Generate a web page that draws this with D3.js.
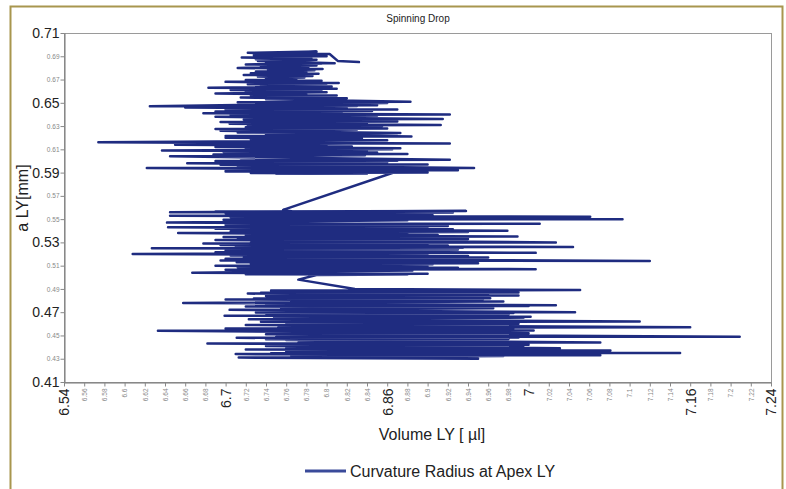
<!DOCTYPE html>
<html>
<head>
<meta charset="utf-8">
<script src="https://cdn.jsdelivr.net/npm/d3@7"></script>
<style>
  html, body { margin: 0; padding: 0; background: #fff; }
  svg { display: block; font-family: "Liberation Sans", Arial, sans-serif; }
</style>
</head>
<body>
<svg id="chart" width="786" height="489"></svg>
<script>
// Spinning drop measurement: curvature radius at apex vs. drop volume (in time order)
const volume = [
  6.832, 6.811, 6.803, 6.722, 6.790, 6.735, 6.780,
  6.728, 6.800, 6.738, 6.782, 6.716, 6.785, 6.730, 6.790,
  6.732, 6.808, 6.740, 6.795, 6.720, 6.790, 6.735, 6.782,
  6.712, 6.796, 6.742, 6.788, 6.730, 6.780, 6.725, 6.792,
  6.718, 6.786, 6.732, 6.778, 6.740, 6.770, 6.720, 6.795,
  6.700, 6.812, 6.730, 6.800, 6.722, 6.790, 6.735, 6.805,
  6.683, 6.810, 6.728, 6.790, 6.705, 6.795, 6.720, 6.800,
  6.690, 6.780, 6.725, 6.810, 6.730, 6.800, 6.715, 6.820,
  6.740, 6.883, 6.712, 6.860, 6.625, 6.850, 6.695, 6.830,
  6.660, 6.820, 6.725, 6.870, 6.700, 6.845, 6.690, 6.815,
  6.678, 6.922, 6.705, 6.850, 6.690, 6.915, 6.718, 6.865,
  6.735, 6.870, 6.695, 6.840, 6.704, 6.913, 6.722, 6.855,
  6.720, 6.860, 6.690, 6.830, 6.695, 6.873, 6.712, 6.870,
  6.740, 6.884, 6.700, 6.845, 6.700, 6.835, 6.725, 6.860,
  6.574, 6.922, 6.692, 6.850, 6.650, 6.800, 6.710, 6.825,
  6.690, 6.873, 6.720, 6.865, 6.637, 6.840, 6.698, 6.850,
  6.700, 6.880, 6.688, 6.838, 6.645, 6.922, 6.715, 6.870,
  6.690, 6.860, 6.705, 6.855, 6.662, 6.900, 6.695, 6.835,
  6.720, 6.946, 6.712, 6.875, 6.622, 6.930, 6.700, 6.850,
  6.700, 6.900, 6.725, 6.840, 6.750, 6.873, 6.757, 6.770,
  6.645, 6.938, 6.690, 6.925, 6.700, 6.890, 6.720, 6.905,
  6.645, 7.061, 6.705, 6.935, 6.720, 7.093, 6.698, 6.880,
  6.642, 7.011, 6.712, 6.910, 6.700, 6.920, 6.730, 6.895,
  6.643, 6.900, 6.690, 6.925, 6.740, 6.979, 6.705, 6.940,
  6.653, 6.880, 6.720, 6.910, 6.720, 6.989, 6.698, 6.885,
  6.760, 6.940, 6.712, 6.930, 6.690, 7.027, 6.725, 6.900,
  6.678, 6.900, 6.695, 6.920, 6.720, 7.044, 6.710, 6.935,
  6.627, 6.930, 6.730, 6.895, 6.700, 7.007, 6.690, 6.915,
  6.608, 6.900, 6.705, 6.940, 6.740, 6.960, 6.718, 6.890,
  6.700, 7.120, 6.695, 6.925, 6.711, 6.950, 6.725, 6.905,
  6.690, 6.900, 6.712, 6.930, 6.740, 7.007, 6.700, 6.885,
  6.667, 6.900, 6.720, 6.880, 6.790, 6.772, 6.828,
  7.051, 6.745, 6.975, 6.760, 6.990, 6.735, 6.960,
  6.722, 6.930, 6.750, 6.990, 6.740, 6.962, 6.728, 6.955,
  6.700, 6.900, 6.765, 6.975, 6.658, 7.027, 6.740, 7.000,
  6.720, 6.950, 6.755, 6.965, 6.704, 7.046, 6.730, 6.985,
  6.740, 6.980, 6.770, 6.950, 6.699, 7.002, 6.748, 6.995,
  6.723, 7.110, 6.735, 6.970, 6.760, 6.990, 6.760, 6.945,
  6.720, 7.160, 6.752, 6.985, 6.700, 6.950, 6.738, 7.005,
  6.633, 7.000, 6.765, 6.960, 6.740, 7.209, 6.750, 6.990,
  6.711, 6.980, 6.740, 6.975, 6.760, 7.071, 6.772, 6.955,
  6.682, 7.000, 6.755, 6.995, 6.740, 7.031, 6.760, 6.970,
  6.720, 7.081, 6.775, 6.950, 6.760, 7.150, 6.745, 6.985,
  6.710, 7.071, 6.765, 6.975, 6.713, 6.950
];
const radius = [
  0.6850, 0.6860, 0.6920, 0.6930, 0.6940, 0.6925, 0.6918,
  0.6910, 0.6900, 0.6897, 0.6893, 0.6890, 0.6880, 0.6875, 0.6870,
  0.6860, 0.6840, 0.6845, 0.6838, 0.6830, 0.6820, 0.6815, 0.6810,
  0.6800, 0.6790, 0.6785, 0.6780, 0.6770, 0.6760, 0.6755, 0.6750,
  0.6740, 0.6730, 0.6725, 0.6718, 0.6710, 0.6700, 0.6695, 0.6690,
  0.6680, 0.6670, 0.6668, 0.6664, 0.6660, 0.6650, 0.6645, 0.6640,
  0.6630, 0.6620, 0.6618, 0.6614, 0.6610, 0.6600, 0.6595, 0.6590,
  0.6580, 0.6570, 0.6566, 0.6562, 0.6560, 0.6550, 0.6545, 0.6540,
  0.6530, 0.6510, 0.6505, 0.6498, 0.6470, 0.6480, 0.6476, 0.6472,
  0.6460, 0.6450, 0.6447, 0.6443, 0.6440, 0.6430, 0.6425, 0.6420,
  0.6410, 0.6400, 0.6395, 0.6390, 0.6380, 0.6360, 0.6357, 0.6353,
  0.6350, 0.6340, 0.6335, 0.6330, 0.6320, 0.6310, 0.6305, 0.6300,
  0.6290, 0.6280, 0.6275, 0.6270, 0.6260, 0.6240, 0.6245, 0.6238,
  0.6230, 0.6210, 0.6215, 0.6212, 0.6200, 0.6190, 0.6185, 0.6178,
  0.6160, 0.6150, 0.6155, 0.6152, 0.6140, 0.6130, 0.6128, 0.6124,
  0.6120, 0.6110, 0.6105, 0.6100, 0.6090, 0.6080, 0.6077, 0.6073,
  0.6070, 0.6060, 0.6055, 0.6050, 0.6040, 0.6010, 0.6005, 0.6002,
  0.6000, 0.5990, 0.5986, 0.5983, 0.5980, 0.5970, 0.5967, 0.5963,
  0.5960, 0.5940, 0.5945, 0.5942, 0.5940, 0.5920, 0.5925, 0.5918,
  0.5910, 0.5900, 0.5897, 0.5893, 0.5890, 0.5920, 0.5580, 0.5560,
  0.5560, 0.5570, 0.5565, 0.5558, 0.5550, 0.5540, 0.5537, 0.5533,
  0.5530, 0.5520, 0.5517, 0.5513, 0.5510, 0.5500, 0.5495, 0.5490,
  0.5470, 0.5460, 0.5457, 0.5453, 0.5450, 0.5440, 0.5437, 0.5433,
  0.5430, 0.5420, 0.5417, 0.5413, 0.5410, 0.5400, 0.5395, 0.5390,
  0.5380, 0.5370, 0.5367, 0.5363, 0.5360, 0.5350, 0.5347, 0.5343,
  0.5340, 0.5330, 0.5327, 0.5323, 0.5320, 0.5300, 0.5297, 0.5293,
  0.5290, 0.5280, 0.5277, 0.5273, 0.5270, 0.5260, 0.5257, 0.5253,
  0.5250, 0.5240, 0.5237, 0.5233, 0.5230, 0.5210, 0.5215, 0.5212,
  0.5200, 0.5190, 0.5187, 0.5183, 0.5180, 0.5170, 0.5167, 0.5163,
  0.5160, 0.5140, 0.5145, 0.5142, 0.5130, 0.5120, 0.5117, 0.5113,
  0.5100, 0.5090, 0.5087, 0.5083, 0.5080, 0.5070, 0.5065, 0.5058,
  0.5040, 0.5030, 0.5027, 0.5024, 0.5020, 0.4980, 0.4900,
  0.4890, 0.4887, 0.4883, 0.4880, 0.4870, 0.4867, 0.4863,
  0.4860, 0.4850, 0.4847, 0.4843, 0.4840, 0.4820, 0.4817, 0.4813,
  0.4810, 0.4800, 0.4797, 0.4793, 0.4780, 0.4760, 0.4757, 0.4753,
  0.4750, 0.4740, 0.4737, 0.4733, 0.4720, 0.4700, 0.4697, 0.4693,
  0.4690, 0.4680, 0.4677, 0.4673, 0.4670, 0.4660, 0.4657, 0.4653,
  0.4640, 0.4620, 0.4617, 0.4613, 0.4610, 0.4600, 0.4597, 0.4593,
  0.4590, 0.4570, 0.4567, 0.4563, 0.4560, 0.4550, 0.4547, 0.4543,
  0.4540, 0.4520, 0.4517, 0.4513, 0.4510, 0.4490, 0.4487, 0.4483,
  0.4480, 0.4470, 0.4467, 0.4463, 0.4460, 0.4440, 0.4437, 0.4433,
  0.4430, 0.4420, 0.4417, 0.4413, 0.4410, 0.4390, 0.4387, 0.4383,
  0.4380, 0.4370, 0.4367, 0.4363, 0.4360, 0.4350, 0.4347, 0.4343,
  0.4340, 0.4330, 0.4327, 0.4323, 0.4310, 0.4300
];

// Axis ticks every 0.02; the larger labels are the emphasised ones
const volTicks = [6.54, 6.56, 6.58, 6.6, 6.62, 6.64, 6.66, 6.68, 6.7, 6.72, 6.74, 6.76, 6.78, 6.8,
  6.82, 6.84, 6.86, 6.88, 6.9, 6.92, 6.94, 6.96, 6.98, 7, 7.02, 7.04, 7.06, 7.08, 7.1, 7.12,
  7.14, 7.16, 7.18, 7.2, 7.22, 7.24];
const volMajor = [6.54, 6.7, 6.86, 7, 7.16, 7.24];
const radTicks = [0.41, 0.43, 0.45, 0.47, 0.49, 0.51, 0.53, 0.55, 0.57, 0.59, 0.61, 0.63, 0.65,
  0.67, 0.69, 0.71];
const radMajor = [0.41, 0.47, 0.53, 0.59, 0.65, 0.71];

const title = "Spinning Drop";
const xTitle = "Volume LY [ \u00b5l]";
const yTitle = "a LY[mm]";
const seriesName = "Curvature Radius at Apex LY";

const lineColor = "#1f2c80";
const plot = { left: 64, right: 771, top: 33, bottom: 382 };

const svg = d3.select("#chart");

// outer frame
svg.append("rect")
  .attr("x", 10.5).attr("y", 6.5)
  .attr("width", 772).attr("height", 500)
  .attr("fill", "none")
  .attr("stroke", "#a8964e")
  .attr("stroke-width", 2);

const x = d3.scaleLinear().domain([6.54, 7.24]).range([plot.left, plot.right]);
const y = d3.scaleLinear().domain([0.41, 0.71]).range([plot.bottom, plot.top]);

const fmt = d => String(+d.toFixed(2));
const isMajor = (list, d) => list.some(v => Math.abs(v - d) < 1e-9);

// plot box
svg.append("rect")
  .attr("x", plot.left + 0.5).attr("y", plot.top + 0.5)
  .attr("width", plot.right - plot.left).attr("height", plot.bottom - plot.top)
  .attr("fill", "none")
  .attr("stroke", "#9a9a9a")
  .attr("stroke-width", 1);

// data line
const pts = volume.map((v, i) => [v, radius[i]]);
svg.append("path")
  .datum(pts)
  .attr("d", d3.line().x(d => x(d[0])).y(d => y(d[1])))
  .attr("fill", "none")
  .attr("stroke", lineColor)
  .attr("stroke-width", 2.5)
  .attr("stroke-linejoin", "round")
  .attr("stroke-linecap", "round");

// x axis
const gx = svg.append("g")
  .attr("transform", `translate(0,${plot.bottom + 0.5})`)
  .call(d3.axisBottom(x).tickValues(volTicks).tickFormat(fmt).tickSize(4).tickSizeOuter(0));
gx.select(".domain").attr("stroke", "#777");
gx.selectAll(".tick line").attr("stroke", "#888");
gx.selectAll(".tick text")
  .attr("transform", "rotate(-90)")
  .attr("text-anchor", "end")
  .attr("x", -6)
  .attr("y", 0)
  .attr("dy", "0.35em")
  .attr("font-family", "Liberation Sans, Arial, sans-serif")
  .attr("font-size", d => isMajor(volMajor, d) ? 14 : 6.5)
  .attr("fill", d => isMajor(volMajor, d) ? "#222" : "#888");

// y axis
const gy = svg.append("g")
  .attr("transform", `translate(${plot.left + 0.5},0)`)
  .call(d3.axisLeft(y).tickValues(radTicks).tickFormat(fmt).tickSize(4).tickSizeOuter(0));
gy.select(".domain").attr("stroke", "#777");
gy.selectAll(".tick line").attr("stroke", "#888");
gy.selectAll(".tick text")
  .attr("x", -5)
  .attr("font-family", "Liberation Sans, Arial, sans-serif")
  .attr("font-size", d => isMajor(radMajor, d) ? 14 : 6.5)
  .attr("fill", d => isMajor(radMajor, d) ? "#222" : "#888");

// titles
svg.append("text")
  .attr("x", 418).attr("y", 22)
  .attr("text-anchor", "middle")
  .attr("font-size", 10)
  .attr("fill", "#222")
  .text(title);

svg.append("text")
  .attr("x", 432).attr("y", 440)
  .attr("text-anchor", "middle")
  .attr("font-size", 16)
  .attr("fill", "#222")
  .text(xTitle);

svg.append("text")
  .attr("transform", "translate(28,198) rotate(-90)")
  .attr("text-anchor", "middle")
  .attr("font-size", 16)
  .attr("fill", "#222")
  .text(yTitle);

// legend
const lg = svg.append("g").attr("transform", "translate(305,471)");
lg.append("line")
  .attr("x1", 0).attr("x2", 41).attr("y1", 0).attr("y2", 0)
  .attr("stroke", "#3a4a9a").attr("stroke-width", 3);
lg.append("text")
  .attr("x", 45).attr("y", 0).attr("dy", "0.35em")
  .attr("font-size", 16)
  .attr("fill", "#222")
  .text(seriesName);
</script>
</body>
</html>
